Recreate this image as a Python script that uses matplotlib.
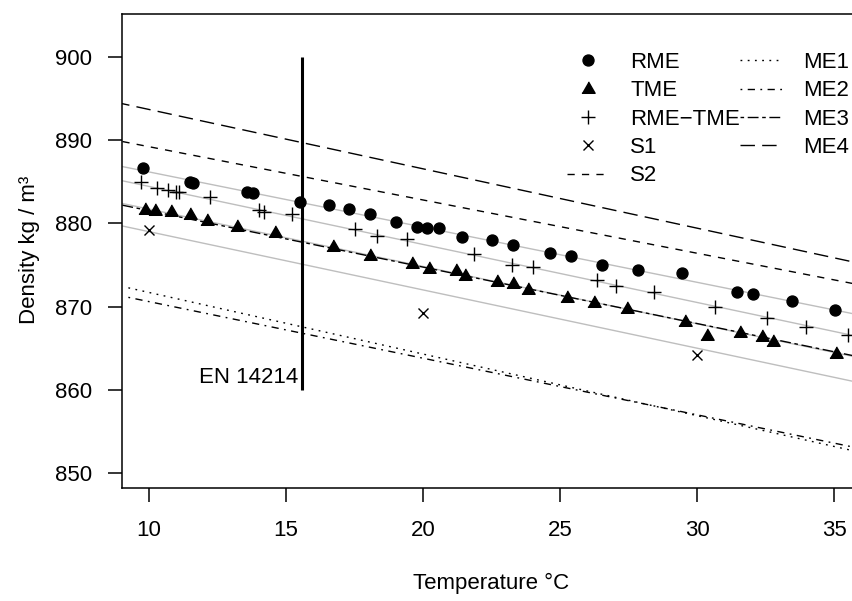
import matplotlib
matplotlib.use("Agg")
import matplotlib.pyplot as plt
import numpy as np

plt.rcParams['font.family'] = ['Liberation Sans', 'DejaVu Sans']

# ---------------- data ----------------
rme_t = [9.78, 11.50, 11.60, 13.57, 13.79, 15.51, 16.58, 17.31, 18.05, 19.02, 19.79, 20.13,
         20.59, 21.41, 22.53, 23.29, 24.61, 25.39, 26.54, 27.82, 29.43, 31.44, 32.02,
         33.45, 35.03]
rme_d = [886.6, 885.0, 884.8, 883.8, 883.6, 882.6, 882.2, 881.7, 881.1, 880.2, 879.6, 879.4,
         879.4, 878.4, 878.0, 877.4, 876.4, 876.1, 875.0, 874.4, 874.0, 871.8, 871.5,
         870.7, 869.6]

tme_t = [9.86, 10.23, 10.80, 11.50, 12.11, 13.21, 14.60, 16.71, 18.05, 19.59, 20.23, 21.20,
         21.53, 22.71, 23.29, 23.82, 25.24, 26.24, 27.43, 29.56, 30.35, 31.56, 32.35,
         32.75, 35.06]
tme_d = [881.6, 881.5, 881.3, 881.0, 880.3, 879.5, 878.8, 877.2, 876.1, 875.1, 874.5, 874.3,
         873.7, 872.9, 872.7, 872.0, 871.0, 870.4, 869.7, 868.2, 866.5, 866.8, 866.4,
         865.8, 864.3]

mix_t = [9.70, 10.29, 10.71, 10.99, 11.11, 12.21, 14.00, 14.18, 15.23, 17.52, 18.31, 19.43,
         21.84, 23.23, 24.02, 26.33, 27.04, 28.42, 30.65, 32.53, 33.96, 35.51]
mix_d = [884.9, 884.2, 884.0, 883.8, 883.7, 883.2, 881.6, 881.4, 881.1, 879.3, 878.5, 878.1,
         876.3, 875.0, 874.7, 873.2, 872.5, 871.8, 870.0, 868.6, 867.6, 866.6]

s1_t = [10.0, 20.0, 30.0]
s1_d = [879.2, 869.2, 864.2]

# fitted (grey) lines: intercept, slope
fit_names = ['RME', 'RME-TME', 'TME', 'S1']
fit_intercept = [892.8, 891.4, 888.6, 886.0]
fit_slope = [-0.663, -0.697, -0.689, -0.700]

# model lines: intercept, slope, start temperature
model_names = ['S2', 'ME1', 'ME2', 'ME3', 'ME4']
model_intercept = [895.6, 879.1, 877.4, 888.3, 900.8]
model_slope = [-0.64, -0.74, -0.68, -0.678, -0.713]
model_start = [8.0, 9.25, 9.25, 8.0, 8.0]
model_end = 40.0

en_temp = 15.6
en_range = [860, 900]
en_label = "EN 14214"

xticks = [10, 15, 20, 25, 30, 35]
yticks = [850, 860, 870, 880, 890, 900]

# ---------------- styles ----------------
dash_styles = {
    'S2': (0, (5.2, 5.2)),
    'ME1': (0, (1.3, 3.9)),
    'ME2': (0, (1.3, 3.9, 5.2, 3.9)),
    'ME3': (0, (2.6, 2.6, 7.8, 2.6)),
    'ME4': (0, (10.4, 5.2)),
}

W, H = 852, 601
fig = plt.figure(figsize=(W / 100, H / 100), dpi=100)
left_px, top_px, bottom_px = 121.5, 14.0, 488.0
xlim = (9.0, 36.5)
px_per_unit = 27.42
right_px = left_px + (xlim[1] - xlim[0]) * px_per_unit
ax = fig.add_axes([left_px / W, 1 - bottom_px / H, (right_px - left_px) / W,
                   (bottom_px - top_px) / H])
ax.set_xlim(*xlim)
ax.set_ylim(848.22, 905.13)

grey = '#BEBEBE'
for a, b in zip(fit_intercept, fit_slope):
    ax.axline((0, a), slope=b, color=grey, lw=1.0, zorder=1)

handles = {}
for name, a, b, s in zip(model_names, model_intercept, model_slope, model_start):
    t = np.array([s, model_end])
    ln, = ax.plot(t, a + b * t, color='black', lw=1.0, linestyle=dash_styles[name], zorder=2)
    handles[name] = ln

ax.plot([en_temp, en_temp], en_range, color='black', lw=2.2, zorder=3, solid_capstyle='butt')
ax.text(en_temp - 0.15, 861.5, en_label, ha='right', va='center', fontsize=16)

tri = [(-1, -0.577), (1, -0.577), (0, 1.155)]
h_rme, = ax.plot(rme_t, rme_d, 'o', color='black', ms=7.9, ls='none', zorder=4)
h_tme, = ax.plot(tme_t, tme_d, marker=tri, color='black', ms=11, ls='none', zorder=4)
h_mix, = ax.plot(mix_t, mix_d, '+', color='black', ms=10.5, mew=1.0, ls='none', zorder=4)
h_s1, = ax.plot(s1_t, s1_d, 'x', color='black', ms=7.5, mew=1.0, ls='none', zorder=4)

ax.set_xticks(xticks)
ax.set_yticks(yticks)
ax.tick_params(axis='both', length=10, width=1.1, labelsize=16, direction='out')
ax.tick_params(axis='x', pad=13)
ax.tick_params(axis='y', pad=11)
for sp in ax.spines.values():
    sp.set_linewidth(1.1)

leg = ax.legend([h_rme, h_tme, h_mix, h_s1, handles['S2'],
                 handles['ME1'], handles['ME2'], handles['ME3'], handles['ME4']],
                ['RME', 'TME', 'RME\u2212TME', 'S1', 'S2', 'ME1', 'ME2', 'ME3', 'ME4'],
                ncol=2, frameon=False, fontsize=16, numpoints=1,
                handlelength=1.9, handletextpad=0.95, columnspacing=0.0,
                labelspacing=0.33, borderpad=0, borderaxespad=0,
                loc='upper left', bbox_to_anchor=(566.7 / W, 1 - 52 / H),
                bbox_transform=fig.transFigure)

fig.text(491 / W, 1 - 583 / H, 'Temperature \u00b0C', ha='center', va='center', fontsize=16)
fig.text(30 / W, 1 - 250 / H, 'Density kg / m\u00b3', ha='center', va='center',
         rotation=90, fontsize=16)

fig.savefig('out.png', dpi=100)
